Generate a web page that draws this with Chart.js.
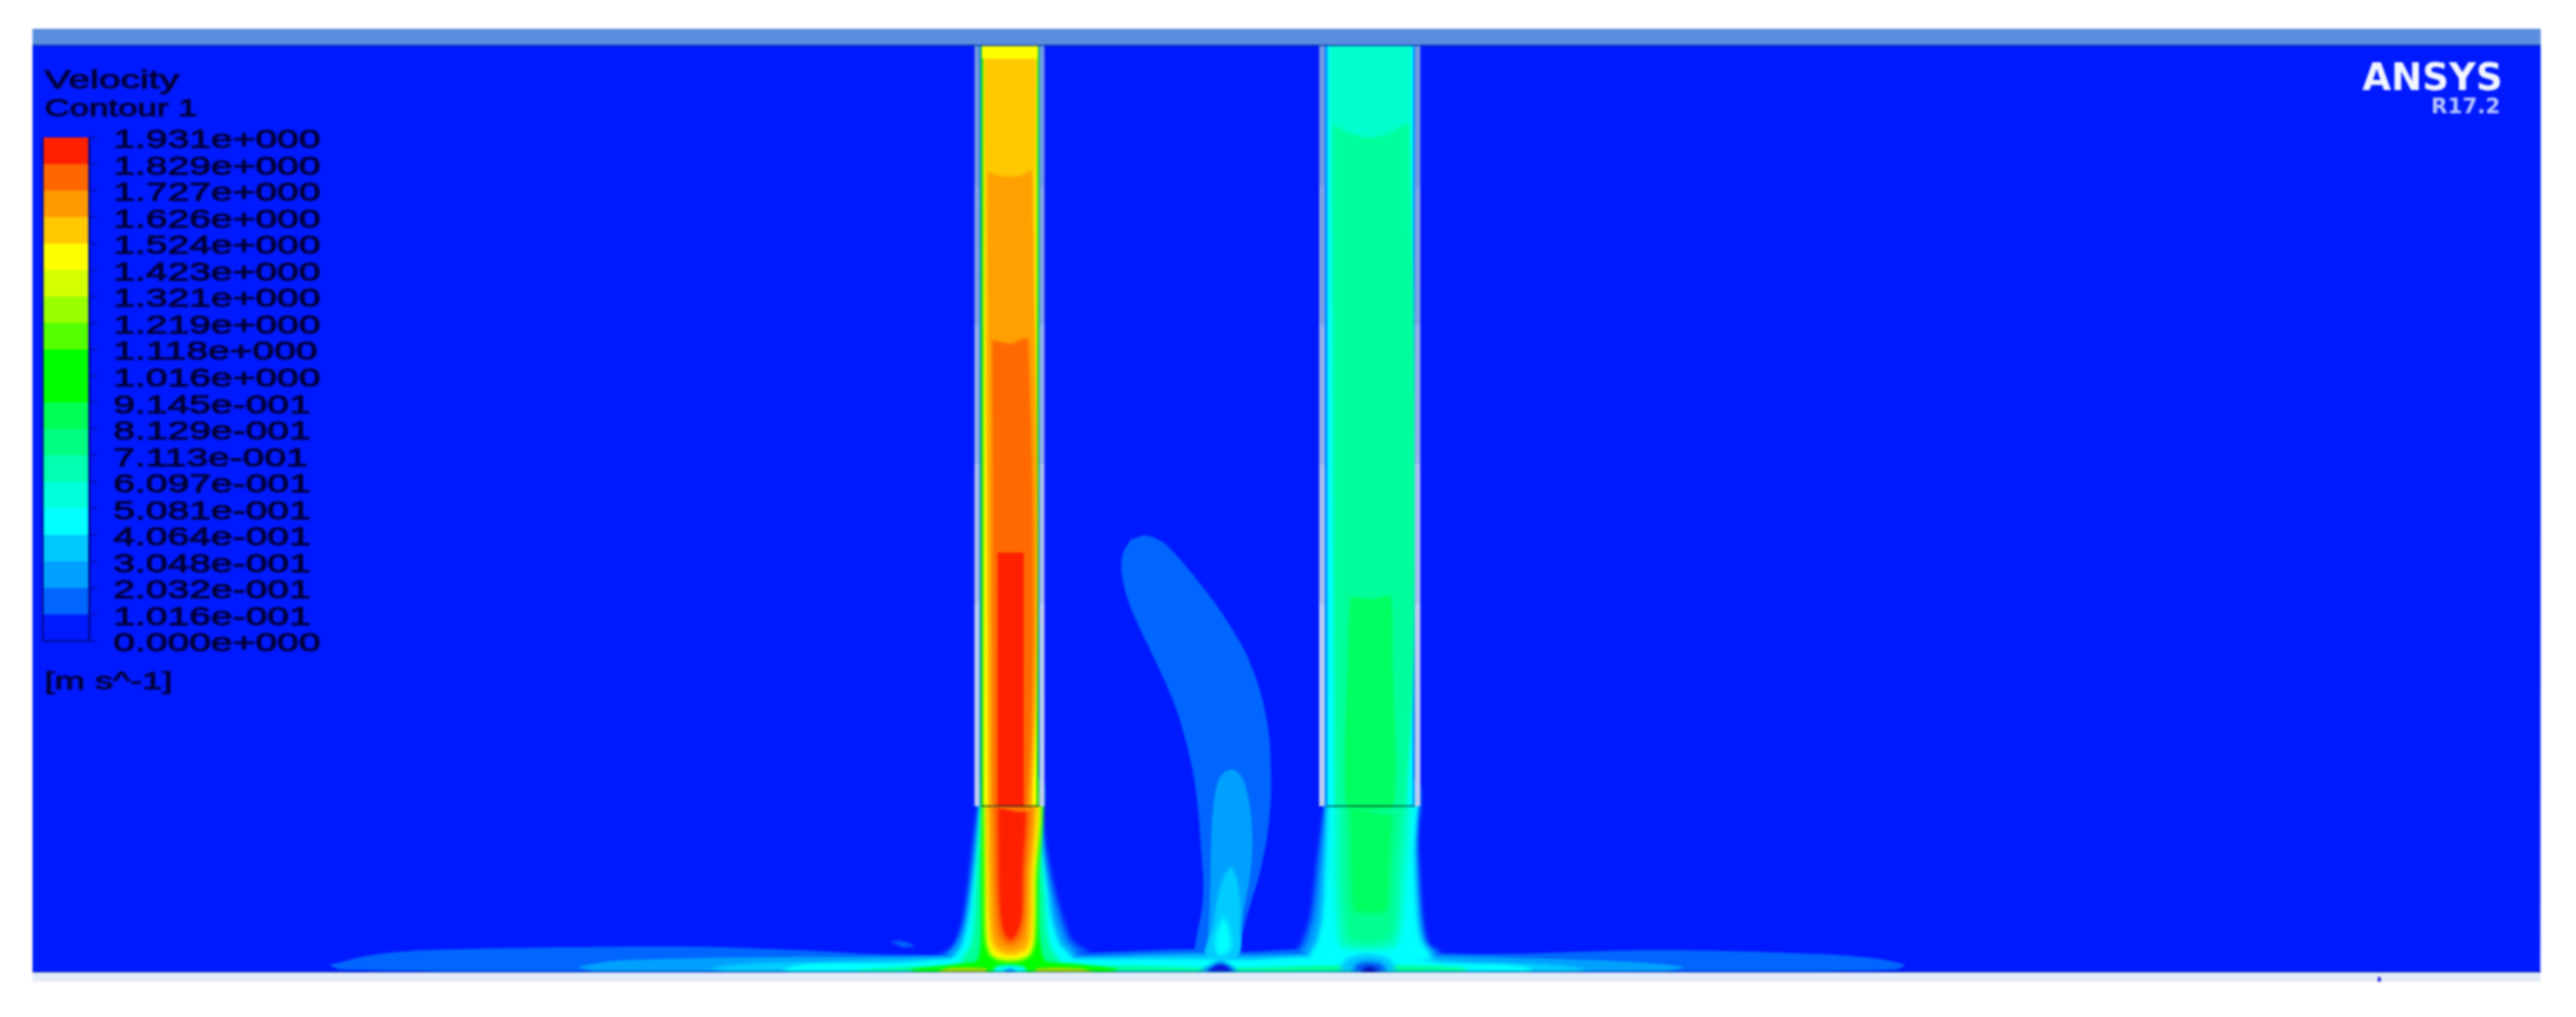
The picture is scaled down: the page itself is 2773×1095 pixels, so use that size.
<!DOCTYPE html>
<html><head><meta charset="utf-8">
<style>html,body{margin:0;padding:0;background:#fff}canvas{display:block;filter:blur(1.1px)}</style>
<script src="https://cdn.jsdelivr.net/npm/chart.js@4"></script></head>
<body><canvas id="c" width="2773" height="1095"></canvas>
<script>
// ---------- legend values ----------
const levelValues=[1.931,1.829,1.727,1.626,1.524,1.423,1.321,1.219,1.118,1.016,0.9145,0.8129,0.7113,0.6097,0.5081,0.4064,0.3048,0.2032,0.1016,0];
const tickLabels=['1.931e+000','1.829e+000','1.727e+000','1.626e+000','1.524e+000','1.423e+000','1.321e+000','1.219e+000','1.118e+000','1.016e+000','9.145e-001','8.129e-001','7.113e-001','6.097e-001','5.081e-001','4.064e-001','3.048e-001','2.032e-001','1.016e-001','0.000e+000'];
const bandColors=['#ff2000','#ff6600','#ff9900','#ffc800','#ffff00','#d4ff00','#99ff00','#55ff00','#00ff00','#00ff00','#00ff55','#00ff80','#00ffb0','#00ffdd','#00ffff','#00c8ff','#00a0ff','#0066ff','#001aff'];
const legendTitle='Velocity', legendSubtitle='Contour 1', unitLabel='[m s^-1]', brand='ANSYS', brandRelease='R17.2';
// ---------- contour outlines, in domain units ----------
const film1=[[354,1039],[402,1028],[458,1023],[606,1020],[734,1019],[861,1023],[938,1027],[1020,1028],[1170,1026],[1280,1022],[1340,1025],[1400,1022],[1540,1026],[1622,1027],[1784,1023],[1955,1027],[2019,1032],[2050,1039],[2040,1044],[1900,1046],[500,1046],[365,1044]];
const film2=[[621,1041],[657,1035],[734,1032],[861,1030],[963,1030],[1030,1029],[1170,1029],[1285,1026],[1340,1028],[1400,1027],[1540,1029],[1662,1032],[1743,1035],[1812,1041],[1790,1046],[640,1046]];
const film3=[[762,1042],[810,1037],[887,1035],[1014,1032],[1180,1031],[1285,1029],[1345,1031],[1405,1029],[1532,1032],[1581,1035],[1662,1038],[1707,1043],[1690,1046],[780,1046]];
const film4=[[841,1043],[871,1038],[963,1037],[1035,1032],[1170,1033],[1290,1033],[1340,1034],[1410,1031],[1524,1033],[1549,1037],[1622,1039],[1650,1043],[1640,1046],[850,1046]];
const film5=[[912,1045],[1000,1040],[1130,1040],[1230,1040],[1290,1042],[1340,1042],[1410,1040],[1540,1040],[1581,1043],[1570,1046],[930,1046]];
const film6=[[978,1044],[1014,1040],[1050,1036],[1130,1036],[1170,1039],[1204,1044],[1190,1047],[990,1047]];
const patchLeft=[[1008,1047],[1020,1042.5],[1045,1042],[1062,1043],[1062,1047]];
const patchRight=[[1115,1047],[1115,1043],[1140,1042],[1165,1043],[1178,1047]];
const vortex=[[958,1014],[970,1013],[984,1019],[972,1020]];
const leftJet1=[[1056,840],[1119,840],[1122,880],[1127,915],[1134,950],[1144,987],[1154,1012],[1172,1027],[1005,1029],[1020,1024],[1030,1012],[1037,987],[1042,950],[1048,900],[1053,870]];
const leftJet2=[[1056,840],[1119,840],[1121,880],[1124,915],[1130,950],[1139,987],[1148,1012],[1160,1030],[1018,1031],[1028,1018],[1036,1000],[1041,980],[1047,940],[1051,900],[1054,870]];
const leftJet3=[[1057,840],[1118,840],[1120,880],[1122,915],[1127,950],[1133,990],[1141,1015],[1155,1034],[1025,1035],[1034,1020],[1041,995],[1047,950],[1052,905],[1055,870]];
const leftJet4=[[1057,840],[1118,840],[1119,880],[1120,915],[1124,960],[1127,1000],[1131,1020],[1140,1037],[1035,1037],[1044,1020],[1048,1000],[1051,950],[1054,905],[1056,870]];
const leftJetGreen=[[1057,840],[1118,840],[1118,950],[1119,1010],[1124,1033],[1130,1040],[1048,1040],[1053,1033],[1056,1010],[1056,950]];
const leftJetYellow=[[1059,840],[1116,840],[1115,950],[1114,1010],[1109,1028],[1097,1034],[1078,1034],[1066,1028],[1061,1010],[1060,950]];
const leftJetAmber=[[1062,840],[1113,840],[1111,950],[1110,1008],[1105,1023],[1088,1029],[1071,1023],[1066,1008],[1063,950]];
const leftJetOrange=[[1064,840],[1110,840],[1108,950],[1107,1005],[1102,1020],[1088,1025],[1074,1020],[1068,1005],[1066,950]];
const leftJetDeep=[[1068,840],[1107,840],[1105,950],[1103,995],[1098,1012],[1088,1018],[1078,1012],[1073,995],[1070,950]];
const leftJetRed=[[1074,840],[1102,840],[1101,950],[1100,987],[1095,1005],[1088,1012],[1081,1005],[1077,987],[1075,950]];
const leftNotch1=[[1068,1047],[1072,1041],[1087,1039],[1102,1041],[1106,1047]];
const leftNotch2=[[1079,1047],[1087,1043],[1095,1047]];
const plume1=[[1232,576],[1245,580],[1258,589],[1293,630],[1323,672],[1347,717],[1363,772],[1368,828],[1366,884],[1357,936],[1343,984],[1335,1016],[1333,1027],[1287,1027],[1287,1016],[1295,967],[1293,915],[1287,849],[1277,800],[1263,755],[1243,710],[1220,661],[1209,626],[1208,599],[1217,581]];
const plume2=[[1326,828],[1335,834],[1343,855],[1348,898],[1346,940],[1338,985],[1331,1028],[1297,1028],[1300,1012],[1303,950],[1304,900],[1306,870],[1311,842],[1318,831]];
const plume3=[[1325,932],[1331,945],[1335,970],[1335,1000],[1332,1030],[1300,1030],[1306,995],[1311,965],[1318,942]];
const plume4=[[1318,986],[1325,1009],[1323,1024],[1312,1028],[1308,1012],[1313,995]];
const midNotch1=[[1290,1046],[1300,1040],[1314,1034],[1326,1040],[1334,1046]];
const midNotch2=[[1298,1046],[1306,1041],[1314,1038],[1322,1041],[1328,1046]];
const rightJet1=[[1428,840],[1523,840],[1524,880],[1527,920],[1532,987],[1539,1017],[1553,1026],[1395,1026],[1401,1015],[1410,987],[1417,930],[1423,887],[1426,868]];
const rightJet2=[[1428,840],[1523,840],[1524,880],[1525,920],[1529,987],[1535,1015],[1548,1029],[1402,1029],[1408,1012],[1415,985],[1421,930],[1425,887],[1427,868]];
const rightJet3=[[1429,840],[1522,840],[1523,920],[1526,987],[1530,1012],[1541,1033],[1410,1033],[1418,1012],[1423,985],[1426,930],[1428,890]];
const rightJetAqua=[[1437,840],[1512,840],[1512,950],[1508,1000],[1500,1020],[1445,1020],[1440,1000],[1437,950]];
const rightJetSpring=[[1445,840],[1505,840],[1503,950],[1500,1000],[1490,1014],[1455,1014],[1449,1000],[1446,950]];
const rightJetCore=[[1453,840],[1497,840],[1496,930],[1492,981],[1458,981],[1454,930]];
const rightNotch1=[[1441,1046],[1450,1033],[1472,1028],[1495,1033],[1504,1046]];
const rightNotch2=[[1455,1046],[1462,1038],[1474,1036],[1486,1038],[1494,1046]];
const rightNotch3=[[1463,1047],[1474,1041],[1486,1047]];
const leftTubeAmber=[[1059.5,63],[1115.5,63],[1113,400],[1111,868],[1064,868],[1061,400]];
const leftTubeOrange=[[1063,185],[1075,189],[1087,190],[1099,189],[1111,185],[1110,868],[1065,868]];
const leftTubeDeep=[[1068,366],[1087,370],[1107,366],[1106,868],[1069,868]];
const leftTubeRed=[[1074,595],[1102,595],[1102,868],[1074,868]];
const rightTubeAqua=[[1431,40],[1519,40],[1517,868],[1436,868]];
const rightTubeMain=[[1435,135],[1455,144],[1475,148],[1495,144],[1517,135],[1512,868],[1438,868]];
const rightTubeCore=[[1453,642],[1475,645],[1497,642],[1499,700],[1500,868],[1450,868],[1451,700]];
// rectangles as [left, right, top, bottom]
const leftTubeTeal=[1054.5,1119,40,868], leftTubeGreen=[1056.5,1118,40,868], leftTubeYellow=[1058.5,1116.5,40,868], leftTubeCap=[1057,1117,40,63];
const rightTubeBlue=[1426,1523,40,868], rightTubeCyan=[1429,1521,40,868];
const field=[35,2735,49,1047], topBand=[35,2735,31,49], topEdge=[35,2735,48,49.5], floor=[35,2735,1047,1057], floorEdge=[35,2735,1045.5,1047], floorMark=[2559.5,2563,1052,1057];
const junctionLeft=[1056,1119,867,869], junctionRight=[1428,1523,867,869];
const wallStops=[49,200,350,500,650,868], wallColors=['#7498e2','#82a0e6','#96aeea','#aabeee','#bccbf2'];
const wallColumns=[[1049,1054.5],[1119,1124.4],[1420,1426],[1523,1529]];
const barColumn=[46.5,95], frameLeft=[45,47], frameRight=[95,97], tickReach=105;

const rect=r=>[[r[0],r[2]],[r[1],r[2]],[r[1],r[3]],[r[0],r[3]]];
const C={a:'#0066ff',b:'#00a0ff',c:'#00ccff',d:'#00ffff',e:'#00ff99'};
const regions=[
 [rect(field),'#001aff',0,0],
 [film1,C.a,.3,.6],[leftJet1,C.a,.3,2],[rightJet1,C.a,.3,2],[plume1,C.a,.4,.6],[vortex,C.a,.4,1],
 [film2,C.b,.3,.6],[leftJet2,C.b,.3,2],[rightJet2,C.b,.3,2],[plume2,C.b,.4,.6],
 [film3,C.c,.3,1],[plume3,C.c,.4,1.2],
 [film4,C.d,.3,1.2],[leftJet3,C.d,.3,2],[rightJet3,C.d,.3,2.5],[plume4,C.d,.35,2],
 [film5,C.e,.3,1.2],[leftJet4,C.e,.3,2],[midNotch1,'#00a0ff',.3,1.5],[midNotch2,'#0a10d8',.3,1.5],
 [film6,'#00ff00',.3,1.2],[patchLeft,'#b8d800',.2,1],[patchRight,'#b8d800',.2,1],
 [leftJetGreen,'#00ff00',.3,1.5],[leftJetYellow,'#ffff00',.3,2],[leftJetAmber,'#ffc800',.3,2],[leftJetOrange,'#ff9f00',.3,2],[leftJetDeep,'#ff6a00',.3,2],[leftJetRed,'#ff2000',.3,1.5],
 [leftNotch1,'#00ffff',.3,1.5],[leftNotch2,'#0070ff',.3,1.5],
 [rightJetAqua,'#00ffbb',.25,3],[rightJetSpring,'#00ff90',.25,3],[rightJetCore,'#00ff60',.15,2],
 [rightNotch1,'#00c0ff',.3,2.5],[rightNotch2,'#0050f0',.3,2],[rightNotch3,'#0a08b8',.3,1.5],
 [rect(leftTubeTeal),'#00b0b0',0,0],[rect(leftTubeGreen),'#00e000',0,.7],[rect(leftTubeYellow),'#ffff00',0,1],
 [leftTubeAmber,'#ffc800',0,1],[rect(leftTubeCap),'#ffff00',0,.7],[leftTubeOrange,'#ff9f00',.3,1],[leftTubeDeep,'#ff6a00',.3,.8],[leftTubeRed,'#ff2000',0,.6],
 [rect(rightTubeBlue),'#0090ff',0,0],[rect(rightTubeCyan),'#00ffff',0,.7],[rightTubeAqua,'#00ffcc',0,1.5],[rightTubeMain,'#00ff9c',.3,1.5],[rightTubeCore,'#00ff60',.15,1.5],
 ...wallColumns.flatMap(c=>wallColors.map((col,i)=>[rect([c[0],c[1],wallStops[i],wallStops[i+1]]),col,0,0])),
 [rect(junctionLeft),'rgba(0,40,40,.55)',0,0],[rect(junctionRight),'rgba(0,40,40,.55)',0,0],
 [rect(floorEdge),'rgba(0,50,130,.5)',0,0],[rect(floor),'#e4ebf8',0,0],[rect(floorMark),'#3030e0',0,0],
 [rect(topBand),'#5b8ddf',0,0],[rect(topEdge),'#0a3fae',0,0]
];
const datasets=regions.map(([pts,col,t,soft])=>({data:pts.map(p=>({x:p[0],y:p[1]})),backgroundColor:col,tension:t||0.0001,borderWidth:0,pointRadius:0,showLine:true,areaFill:true,soft}));
// legend colour bar, nested so that each band comes from the velocity scale
bandColors.forEach((col,i)=>datasets.push({yAxisID:'yV',data:rect([barColumn[0],barColumn[1],levelValues[i],0]).map(p=>({x:p[0],y:p[1]})),backgroundColor:col,tension:0.0001,borderWidth:0,pointRadius:0,showLine:true,areaFill:true}));
const frameColor='#000c98';
datasets.push({yAxisID:'yV',data:rect([frameLeft[0],frameLeft[1],levelValues[0],0]).map(p=>({x:p[0],y:p[1]})),backgroundColor:frameColor,tension:0.0001,borderWidth:0,pointRadius:0,showLine:true,areaFill:true});
datasets.push({yAxisID:'yV',data:rect([frameRight[0],frameRight[1],levelValues[0],0]).map(p=>({x:p[0],y:p[1]})),backgroundColor:frameColor,tension:0.0001,borderWidth:0,pointRadius:0,showLine:true,areaFill:true});
datasets.push({yAxisID:'yV',data:levelValues.flatMap(v=>[{x:frameRight[1],y:v},{x:tickReach,y:v},{x:frameRight[1],y:v}]),borderColor:'rgba(0,10,150,.8)',borderWidth:1.5,pointRadius:0,showLine:true,tension:0.0001});
datasets.push({yAxisID:'yV',data:[{x:frameLeft[0],y:0},{x:frameRight[1],y:0}],borderColor:frameColor,borderWidth:2,pointRadius:0,showLine:true,tension:0.0001});

const labelStretch=1.5;
const areaFill={id:'areaFill',
 afterLayout(chart){const s=chart.scales.yV;if(s._wrapped)return;s._wrapped=true;const orig=s.drawLabels.bind(s);
  s.drawLabels=a=>{const c=chart.ctx;c.save();c.translate(122,3.5);c.scale(labelStretch,1);orig(a);c.restore();};},
 beforeDatasetsDraw(chart){const c=chart.ctx;
  chart.data.datasets.forEach((d,i)=>{if(!d.areaFill)return;const m=chart.getDatasetMeta(i);const el=m.dataset;
   el.updateControlPoints(chart.chartArea,'x');c.save();if(d.soft)c.filter='blur('+d.soft+'px)';c.fillStyle=d.backgroundColor;c.beginPath();el.path(c);c.closePath();c.fill();c.restore();});},
 afterDatasetsDraw(chart){const c=chart.ctx,X=chart.scales.x,Y=chart.scales.y;
  const put=(txt,xv,yv,font,col,sx,sw)=>{c.save();c.translate(X.getPixelForValue(xv),Y.getPixelForValue(yv));c.scale(sx,1);c.font=font;c.fillStyle=col;c.strokeStyle=col;c.lineWidth=sw;c.textBaseline='alphabetic';if(sw)c.strokeText(txt,0,0);c.fillText(txt,0,0);c.restore();};
  const sans='"Liberation Sans"',ink='#000038';
  put(legendTitle,48,95,'28px '+sans,ink,labelStretch,.9);
  put(legendSubtitle,48,125,'25px '+sans,ink,labelStretch,.9);
  put(unitLabel,48,742,'26px '+sans,ink,labelStretch,.9);
  put(brand,2543,97,'bold 40px "DejaVu Sans"','#f2f5ff',1,0);
  put(brandRelease,2617,122,'bold 23px "DejaVu Sans"','#b4c4ff',1,0);}
};
const pxPerUnit=(690-148)/levelValues[0];
new Chart(document.getElementById('c'),{type:'scatter',data:{datasets},plugins:[areaFill],options:{
 responsive:false,animation:false,layout:{padding:0},events:[],
 plugins:{legend:{display:false},tooltip:{enabled:false},title:{display:false}},
 scales:{
  x:{type:'linear',min:0,max:2773,display:false},
  y:{type:'linear',min:0,max:1095,reverse:true,display:false},
  yV:{type:'linear',position:'left',min:-(1095-690)/pxPerUnit,max:levelValues[0]+148/pxPerUnit,
   afterBuildTicks(s){s.ticks=levelValues.map(v=>({value:v}));},
   afterFit(s){s.width=0;s.paddingTop=0;s.paddingBottom=0;},
   grid:{display:false,drawTicks:false},border:{display:false},
   ticks:{mirror:true,padding:0,z:1,autoSkip:false,color:'#000038',textStrokeColor:'#000038',textStrokeWidth:.9,font:{family:'"Liberation Sans"',size:28},callback:(v,i)=>tickLabels[i]}}
 }}});
</script></body></html>
